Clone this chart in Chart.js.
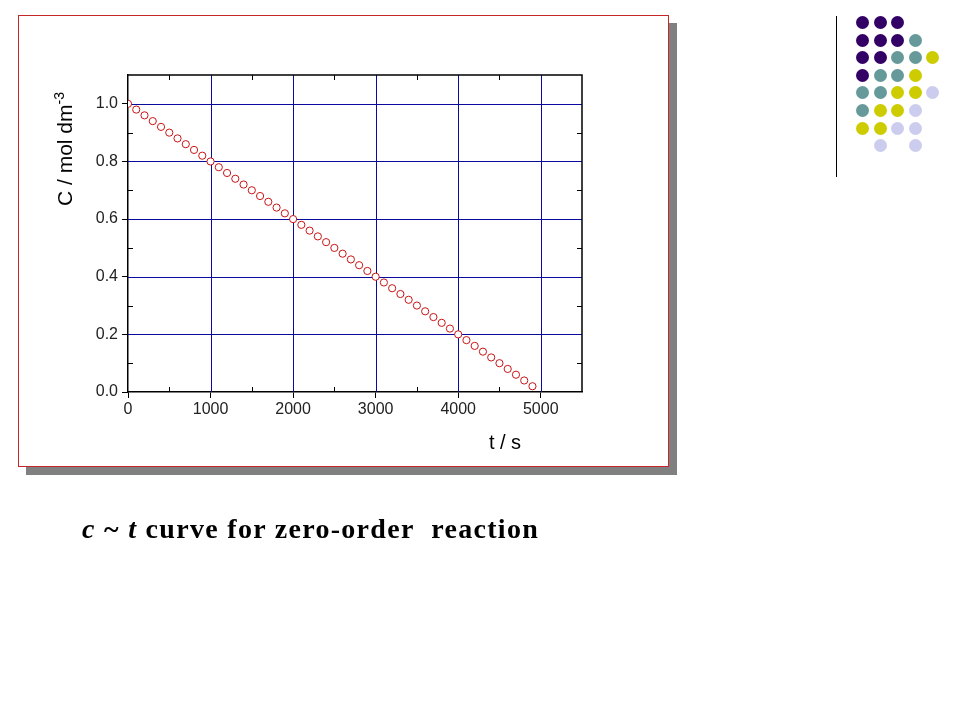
<!DOCTYPE html>
<html>
<head>
<meta charset="utf-8">
<script src="https://cdn.jsdelivr.net/npm/chart.js@4/dist/chart.umd.min.js"></script>
<style>
  html, body { margin: 0; padding: 0; background: #fff; }
  body { width: 960px; height: 720px; position: relative; overflow: hidden; font-family: 'Liberation Sans', Arial, sans-serif; }
  #frame {
    position: absolute; left: 18px; top: 15px; width: 649px; height: 450px;
    background: #fff; border: 1px solid #c62828; box-shadow: 8px 8px 0 #808080;
  }
  #chart-wrap { position: absolute; left: 0; top: 0; width: 960px; height: 720px; }
  .axis-title { position: absolute; font-size: 20px; color: #000; white-space: nowrap; }
  #ytitle { left: 64px; top: 149px; font-size: 21px; transform: translate(-50%, -50%) rotate(-90deg); }
  #ytitle sup { font-size: 14px; }
  #xtitle { left: 505px; top: 442px; transform: translate(-50%, -50%); }
  #caption {
    position: absolute; left: 82px; top: 513px; font-family: 'Liberation Serif', 'Times New Roman', serif;
    font-weight: bold; font-size: 28px; letter-spacing: 1.3px; color: #000; white-space: nowrap;
  }
  #deco-line { position: absolute; left: 836px; top: 16px; width: 1px; height: 161px; background: #000; }
  .dot { position: absolute; width: 13px; height: 13px; border-radius: 50%; }
</style>
</head>
<body>
<div id="frame"></div>
<div id="chart-wrap"><canvas id="chart" width="960" height="720"></canvas></div>
<div class="axis-title" id="ytitle">C / mol dm<sup>-3</sup></div>
<div class="axis-title" id="xtitle">t / s</div>
<div id="caption"><i>c</i> ~ <i>t</i> curve for zero-order&nbsp; reaction</div>
<div id="deco-line"></div>
<script>
// measured points: time (s) and concentration (mol dm-3)
const times = [
  0, 100, 200, 300, 400, 500, 600, 700, 800, 900,
  1000, 1100, 1200, 1300, 1400, 1500, 1600, 1700, 1800, 1900,
  2000, 2100, 2200, 2300, 2400, 2500, 2600, 2700, 2800, 2900,
  3000, 3100, 3200, 3300, 3400, 3500, 3600, 3700, 3800, 3900,
  4000, 4100, 4200, 4300, 4400, 4500, 4600, 4700, 4800, 4900,
];
const concs = [
  1.00, 0.98, 0.96, 0.94, 0.92, 0.90, 0.88, 0.86, 0.84, 0.82,
  0.80, 0.78, 0.76, 0.74, 0.72, 0.70, 0.68, 0.66, 0.64, 0.62,
  0.60, 0.58, 0.56, 0.54, 0.52, 0.50, 0.48, 0.46, 0.44, 0.42,
  0.40, 0.38, 0.36, 0.34, 0.32, 0.30, 0.28, 0.26, 0.24, 0.22,
  0.20, 0.18, 0.16, 0.14, 0.12, 0.10, 0.08, 0.06, 0.04, 0.02,
];

const xTicks = [0, 1000, 2000, 3000, 4000, 5000];
const yTicks = [0.0, 0.2, 0.4, 0.6, 0.8, 1.0];
const xMinor = [500, 1500, 2500, 3500, 4500];
const yMinor = [0.1, 0.3, 0.5, 0.7, 0.9];

// decorative dot grid, top right (p=purple, t=teal, y=yellow, l=lavender, .=none)
const dotRows = ['ppp', 'pppt', 'pptty', 'ptty', 'ttyyl', 'tyyl', 'yyll', '.l.l'];
const dotColors = { p: '#330066', t: '#669999', y: '#cccc00', l: '#ccccee' };

dotRows.forEach((row, r) => {
  [...row].forEach((c, i) => {
    if (c === '.') return;
    const d = document.createElement('div');
    d.className = 'dot';
    d.style.left = (856 + i * 17.6) + 'px';
    d.style.top = (16 + r * 17.6) + 'px';
    d.style.background = dotColors[c];
    document.body.appendChild(d);
  });
});

const px = v => Math.round(v) + 0.5;

// blue grid under the points, black frame and small inward ticks over them
const frameTicks = {
  id: 'frameTicks',
  beforeDatasetsDraw(chart) {
    const { ctx, chartArea: a, scales: { x, y } } = chart;
    ctx.save();
    ctx.strokeStyle = '#0a0a9e';
    ctx.lineWidth = 1;
    ctx.beginPath();
    for (const v of xTicks) {
      if (v === 0) continue; // left border stays black
      const X = px(x.getPixelForValue(v));
      ctx.moveTo(X, a.top); ctx.lineTo(X, a.bottom);
    }
    for (const v of yTicks) {
      if (v === 0) continue;
      const Y = px(y.getPixelForValue(v));
      ctx.moveTo(a.left, Y); ctx.lineTo(a.right, Y);
    }
    ctx.stroke();
    ctx.restore();
  },
  afterDatasetsDraw(chart) {
    const { ctx, chartArea: a, scales: { x, y } } = chart;
    ctx.save();
    ctx.strokeStyle = '#000';
    ctx.lineWidth = 1.5;
    ctx.beginPath();
    ctx.moveTo(a.left, a.top); ctx.lineTo(a.right, a.top); ctx.lineTo(a.right, a.bottom);
    ctx.stroke();
    ctx.lineWidth = 1;
    ctx.beginPath();
    for (const v of xMinor) {
      const X = px(x.getPixelForValue(v));
      ctx.moveTo(X, a.bottom); ctx.lineTo(X, a.bottom - 5);
      ctx.moveTo(X, a.top); ctx.lineTo(X, a.top + 5);
    }
    for (const v of yMinor) {
      const Y = px(y.getPixelForValue(v));
      ctx.moveTo(a.left, Y); ctx.lineTo(a.left + 5, Y);
      ctx.moveTo(a.right, Y); ctx.lineTo(a.right - 5, Y);
    }
    ctx.stroke();
    ctx.restore();
  },
};

new Chart(document.getElementById('chart'), {
  type: 'scatter',
  data: {
    datasets: [{
      data: times.map((t, i) => ({ x: t, y: concs[i] })),
      showLine: false,
      pointRadius: 3.6,
      pointBorderWidth: 1,
      pointBorderColor: '#c81414',
      pointBackgroundColor: '#fff',
    }],
  },
  options: {
    responsive: false,
    animation: false,
    layout: { padding: { left: 0, top: 75, right: 378, bottom: 288 } },
    plugins: { legend: { display: false }, tooltip: { enabled: false } },
    scales: {
      x: {
        type: 'linear', min: 0, max: 5500,
        afterBuildTicks: s => { s.ticks = xTicks.map(v => ({ value: v })); },
        afterFit: s => { s.height = 40; },
        grid: { drawOnChartArea: false, tickColor: '#000', tickLength: 6 },
        border: { color: '#000', width: 1.5 },
        ticks: {
          color: '#222', padding: 2, maxRotation: 0, font: { family: 'Liberation Sans', size: 16 },
          callback: v => String(v),
        },
      },
      y: {
        type: 'linear', min: 0, max: 1.1,
        afterBuildTicks: s => { s.ticks = yTicks.map(v => ({ value: v })); },
        afterFit: s => { s.width = 128; },
        grid: { drawOnChartArea: false, tickColor: '#000', tickLength: 6 },
        border: { color: '#000', width: 1.5 },
        ticks: {
          color: '#222', padding: 4, font: { family: 'Liberation Sans', size: 16 },
          callback: v => v.toFixed(1),
        },
      },
    },
  },
  plugins: [frameTicks],
});
</script>
</body>
</html>
